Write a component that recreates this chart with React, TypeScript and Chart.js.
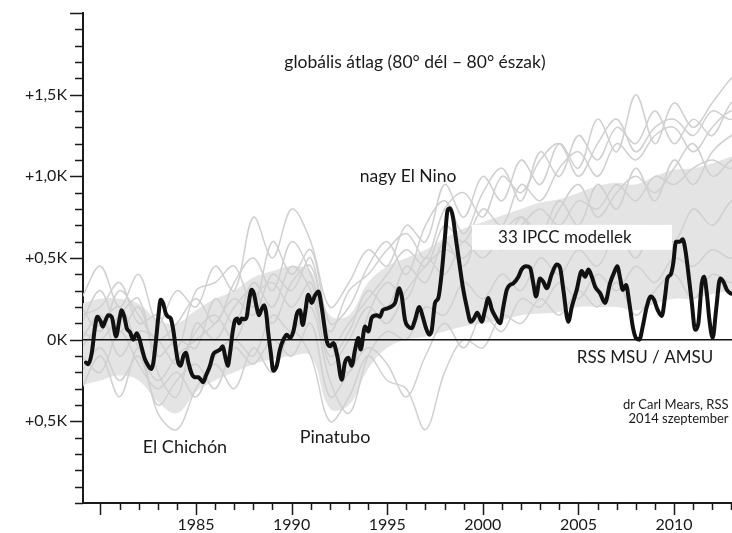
import { useEffect, useRef } from 'react';
import { Chart, registerables } from 'chart.js';

Chart.register(...registerables);

// ---- axis ranges & tick labels ----
const X_MIN = 1979.09;
const X_MAX = 2013.03;
const Y_MIN = -1.0;
const Y_MAX = 2.0;
const X_LABEL_YEARS = [1985, 1990, 1995, 2000, 2005, 2010];
const Y_LABEL_VALUES = [1.5, 1.0, 0.5, 0, -0.5];
const Y_LABEL_TEXTS = ['+1,5K', '+1,0K', '+0,5K', '0K', '+0,5K'];
const YEAR_TICKS = Array.from({ length: 34 }, (_, i) => 1980 + i);
const Y_TICKS = Array.from({ length: 31 }, (_, i) => Math.round(-10 + i) / 10);

// ---- RSS MSU / AMSU observed series (K) ----
const RSS_YEARS = [
  1979.25, 1979.37, 1979.55, 1979.72, 1979.84, 1980.02, 1980.12, 1980.24, 1980.41, 1980.59,
  1980.82, 1980.99, 1981.11, 1981.25, 1981.38, 1981.55, 1981.72, 1981.9, 1982.03, 1982.16,
  1982.33, 1982.51, 1982.65, 1982.77, 1982.91, 1983.03, 1983.15, 1983.29, 1983.42, 1983.55,
  1983.68, 1983.81, 1983.95, 1984.07, 1984.2, 1984.34, 1984.48, 1984.6, 1984.78, 1984.95,
  1985.12, 1985.25, 1985.38, 1985.52, 1985.73, 1985.9, 1986.11, 1986.26, 1986.4, 1986.52,
  1986.66, 1986.78, 1986.92, 1987.04, 1987.16, 1987.26, 1987.39, 1987.53, 1987.65, 1987.77,
  1987.91, 1988.03, 1988.17, 1988.29, 1988.44, 1988.56, 1988.66, 1988.78, 1988.91, 1989.04,
  1989.22, 1989.39, 1989.57, 1989.74, 1989.92, 1990.09, 1990.28, 1990.44, 1990.58, 1990.7,
  1990.87, 1991.05, 1991.22, 1991.4, 1991.57, 1991.84, 1992.01, 1992.18, 1992.39, 1992.62,
  1992.79, 1992.97, 1993.14, 1993.32, 1993.49, 1993.61, 1993.84, 1994.01, 1994.19, 1994.45,
  1994.62, 1994.76, 1994.97, 1995.18, 1995.41, 1995.63, 1995.76, 1995.93, 1996.1, 1996.28,
  1996.45, 1996.68, 1996.86, 1997.03, 1997.2, 1997.33, 1997.5, 1997.67, 1997.85, 1998.02,
  1998.16, 1998.28, 1998.43, 1998.6, 1998.77, 1998.95, 1999.16, 1999.37, 1999.54, 1999.71,
  1999.94, 2000.12, 2000.29, 2000.47, 2000.64, 2000.9, 2001.07, 2001.25, 2001.42, 2001.6,
  2001.86, 2002.03, 2002.26, 2002.47, 2002.64, 2002.78, 2002.99, 2003.16, 2003.34, 2003.6,
  2003.86, 2004.04, 2004.21, 2004.47, 2004.65, 2004.91, 2005.17, 2005.35, 2005.52, 2005.7,
  2005.87, 2006.13, 2006.39, 2006.65, 2006.86, 2007.03, 2007.18, 2007.32, 2007.49, 2007.66,
  2007.84, 2008.01, 2008.19, 2008.36, 2008.57, 2008.78, 2008.95, 2009.13, 2009.36, 2009.53,
  2009.65, 2009.83, 2009.96, 2010.1, 2010.31, 2010.45, 2010.59, 2010.77, 2010.93, 2011.1,
  2011.27, 2011.45, 2011.57, 2011.71, 2011.85, 2012.02, 2012.2, 2012.41, 2012.58, 2012.76,
  2012.93, 2013.2,
];
const RSS_VALUES = [
  -0.14, -0.15, -0.08, 0.08, 0.14, 0.11, 0.08, 0.11, 0.15, 0.14,
  0.02, 0.12, 0.18, 0.14, 0.07, 0.045, 0.0, 0.04, 0.01, -0.05,
  -0.12, -0.16, -0.18, -0.14, 0.0, 0.14, 0.245, 0.22, 0.16, 0.14,
  0.13, 0.06, -0.06, -0.14, -0.16, -0.1, -0.08, -0.14, -0.21, -0.23,
  -0.23, -0.245, -0.26, -0.22, -0.16, -0.09, -0.07, -0.06, -0.04, -0.1,
  -0.16, -0.08, 0.05, 0.12, 0.13, 0.1, 0.13, 0.125, 0.14, 0.235,
  0.305, 0.28, 0.2, 0.15, 0.19, 0.21, 0.17, 0.04, -0.08, -0.19,
  -0.16, -0.06, 0.0, 0.03, 0.01, 0.05, 0.16, 0.18, 0.09, 0.16,
  0.275, 0.225, 0.27, 0.295, 0.2, -0.01, -0.04, -0.02, -0.1, -0.245,
  -0.14, -0.11, -0.16, -0.06, 0.01, -0.06, 0.08, 0.05, 0.135, 0.15,
  0.14, 0.18, 0.19, 0.2, 0.225, 0.315, 0.265, 0.12, 0.08, 0.07,
  0.12, 0.2, 0.14, 0.07, 0.03, 0.06, 0.225, 0.255, 0.41, 0.63,
  0.795, 0.805, 0.755, 0.61, 0.47, 0.325, 0.2, 0.11, 0.13, 0.165,
  0.11, 0.185, 0.255, 0.185, 0.145, 0.1, 0.2, 0.305, 0.335, 0.345,
  0.385, 0.43, 0.45, 0.44, 0.345, 0.265, 0.375, 0.355, 0.315, 0.4,
  0.46, 0.44, 0.305, 0.11, 0.2, 0.305, 0.42, 0.385, 0.43, 0.385,
  0.325, 0.285, 0.225, 0.345, 0.41, 0.45, 0.375, 0.305, 0.335, 0.225,
  0.08, 0.01, 0.0, 0.08, 0.2, 0.265, 0.245, 0.185, 0.145, 0.265,
  0.375, 0.4, 0.47, 0.6, 0.6, 0.615, 0.55, 0.385, 0.225, 0.06,
  0.1, 0.345, 0.385, 0.285, 0.12, 0.01, 0.185, 0.375, 0.355, 0.305,
  0.285, 0.28,
];

// ---- IPCC model runs (K), yearly ----
const MODEL_YEARS = Array.from({ length: 36 }, (_, i) => 1979 + i);
const MODEL_1 = [0.25, 0.45, 0.2, 0.4, 0.1, 0.3, 0.2, 0.45, 0.3, 0.75, 0.5, 0.8, 0.6, 0.2, 0.35, 0.55, 0.45, 0.7, 0.6, 0.95, 0.75, 1.0, 0.85, 1.1, 0.95, 1.2, 1.05, 1.35, 1.15, 1.5, 1.2, 1.45, 1.3, 1.45, 1.6, 1.7];
const MODEL_2 = [-0.3, -0.1, -0.35, -0.05, -0.45, -0.55, -0.3, -0.15, -0.3, -0.05, -0.2, 0.05, -0.1, -0.5, -0.35, -0.1, -0.25, -0.3, -0.55, -0.2, 0.0, -0.05, 0.15, 0.1, 0.25, 0.15, 0.3, 0.2, 0.35, 0.15, 0.3, 0.4, 0.25, 0.4, 0.35, 0.45];
const MODEL_3 = [0.1, 0.3, 0.05, 0.2, -0.1, 0.0, -0.05, 0.25, 0.1, 0.35, 0.2, 0.45, 0.3, -0.1, 0.05, 0.3, 0.2, 0.45, 0.35, 0.6, 0.45, 0.7, 0.55, 0.75, 0.65, 0.85, 0.7, 0.95, 0.8, 1.05, 0.85, 1.1, 0.95, 1.15, 1.25, 1.3];
const MODEL_4 = [-0.1, -0.2, 0.05, -0.15, -0.3, -0.2, -0.35, -0.1, 0.0, -0.1, 0.15, 0.05, 0.2, -0.25, -0.45, -0.1, 0.05, 0.0, 0.2, 0.15, 0.35, 0.25, 0.4, 0.3, 0.5, 0.4, 0.55, 0.45, 0.65, 0.5, 0.7, 0.6, 0.8, 0.7, 0.85, 0.9];
const MODEL_5 = [0.05, 0.0, 0.15, 0.25, -0.2, -0.35, 0.1, 0.0, 0.2, 0.3, 0.1, 0.35, 0.45, 0.0, -0.2, 0.15, 0.35, 0.25, 0.5, 0.4, 0.6, 0.5, 0.65, 0.75, 0.6, 0.8, 0.95, 0.75, 0.9, 1.0, 0.9, 1.05, 1.2, 1.0, 1.1, 1.15];
const MODEL_6 = [0.15, 0.2, 0.35, 0.1, 0.15, -0.05, 0.3, 0.35, 0.45, 0.2, 0.6, 0.4, 0.55, 0.1, 0.2, 0.45, 0.6, 0.4, 0.7, 0.85, 0.65, 0.9, 1.05, 0.85, 1.15, 1.0, 1.25, 1.1, 1.3, 1.2, 1.4, 1.2, 1.35, 1.25, 1.45, 1.5];
const MODEL_7 = [-0.2, -0.05, -0.25, -0.1, -0.4, -0.25, -0.15, -0.3, -0.05, -0.15, 0.0, -0.1, 0.1, -0.35, -0.2, -0.05, -0.15, -0.35, -0.1, 0.1, -0.05, 0.15, 0.05, 0.25, 0.2, 0.35, 0.25, 0.4, 0.3, 0.45, 0.35, 0.5, 0.45, 0.55, 0.5, 0.6];
const MODEL_8 = [0.0, 0.15, -0.1, 0.05, 0.0, -0.15, 0.05, 0.15, 0.0, 0.25, 0.35, 0.2, 0.35, -0.15, 0.0, 0.2, 0.1, 0.3, 0.45, 0.55, 0.5, 0.65, 0.6, 0.7, 0.8, 0.7, 0.85, 0.8, 0.95, 0.85, 1.0, 0.95, 1.05, 1.1, 1.05, 1.2];
const MODEL_9 = [0.2, 0.05, 0.3, 0.15, 0.0, 0.1, 0.25, 0.1, 0.35, 0.5, 0.3, 0.6, 0.4, 0.05, 0.3, 0.4, 0.55, 0.65, 0.5, 0.8, 0.9, 0.75, 1.0, 0.9, 1.1, 1.2, 1.0, 1.2, 1.35, 1.15, 1.3, 1.35, 1.25, 1.4, 1.35, 1.5];
const MODEL_10 = [-0.05, 0.1, 0.2, -0.05, -0.25, -0.1, 0.0, 0.1, 0.25, 0.15, 0.4, 0.3, 0.5, -0.05, 0.1, 0.25, 0.4, 0.55, 0.45, 0.7, 0.6, 0.8, 0.7, 0.95, 0.85, 1.05, 1.15, 1.0, 1.2, 1.1, 1.25, 1.3, 1.15, 1.3, 1.4, 1.35];
const MODELS = [MODEL_1, MODEL_2, MODEL_3, MODEL_4, MODEL_5, MODEL_6, MODEL_7, MODEL_8, MODEL_9, MODEL_10];

// dense core of the model ensemble (K)
const BAND_UPPER = [0.22, 0.25, 0.25, 0.22, 0.12, 0.1, 0.18, 0.25, 0.3, 0.38, 0.42, 0.45, 0.42, 0.15, 0.15, 0.35, 0.45, 0.5, 0.55, 0.62, 0.68, 0.72, 0.76, 0.8, 0.84, 0.86, 0.9, 0.94, 0.96, 0.95, 1.0, 1.04, 1.05, 1.08, 1.12, 1.15];
const BAND_LOWER = [-0.28, -0.25, -0.22, -0.25, -0.38, -0.45, -0.32, -0.25, -0.2, -0.15, -0.12, -0.1, -0.1, -0.42, -0.4, -0.18, -0.05, 0.0, 0.02, 0.05, 0.08, 0.1, 0.12, 0.15, 0.16, 0.17, 0.2, 0.2, 0.2, 0.18, 0.22, 0.25, 0.25, 0.28, 0.3, 0.32];

// ---- annotations (data coordinates) ----
const NOTES = [
  { text: 'globális átlag (80° dél – 80° észak)', x: 1996.45, y: 1.7, size: 17.5, align: 'center' },
  { text: 'nagy El Nino', x: 1996.09, y: 1.0, size: 17.5, align: 'center' },
  { text: '33 IPCC modellek', x: 2004.29, y: 0.624, size: 17, align: 'center' },
  { text: 'RSS MSU / AMSU', x: 2008.48, y: -0.11, size: 17, align: 'center' },
  { text: 'dr Carl Mears, RSS', x: 2012.85, y: -0.4, size: 13, align: 'right' },
  { text: '2014 szeptember', x: 2012.85, y: -0.483, size: 13, align: 'right' },
  { text: 'El Chichón', x: 1984.42, y: -0.66, size: 18, align: 'center' },
  { text: 'Pinatubo', x: 1992.27, y: -0.6, size: 18, align: 'center' },
];
const LABEL_BOX = { x0: 1999.43, x1: 2009.89, y0: 0.55, y1: 0.703 };

const FONT = 'Lato, "Open Sans", sans-serif';
const INK = '#1a1a1a';

const toXY = (xs: number[], ys: number[]) => xs.map((x, i) => ({ x, y: ys[i] }));

const overlay = {
  id: 'overlay',
  beforeDatasetDraw(chart: any, args: any) {
    if (args.index !== 0) return;
    const { ctx, scales } = chart;
    const x0 = scales.x.getPixelForValue(LABEL_BOX.x0);
    const x1 = scales.x.getPixelForValue(LABEL_BOX.x1);
    const y0 = scales.y.getPixelForValue(LABEL_BOX.y1);
    const y1 = scales.y.getPixelForValue(LABEL_BOX.y0);
    ctx.save();
    ctx.fillStyle = '#ffffff';
    ctx.fillRect(x0, y0, x1 - x0, y1 - y0);
    ctx.fillStyle = INK;
    const n = NOTES[2];
    ctx.font = `${n.size}px ${FONT}`;
    ctx.textAlign = 'center';
    ctx.textBaseline = 'middle';
    ctx.fillText(n.text, scales.x.getPixelForValue(n.x), scales.y.getPixelForValue(n.y));
    ctx.restore();
  },
  afterDatasetsDraw(chart: any) {
    const { ctx, scales } = chart;
    ctx.save();
    ctx.fillStyle = INK;
    ctx.textBaseline = 'middle';
    NOTES.forEach((n, i) => {
      if (i === 2) return;
      ctx.font = `${n.size}px ${FONT}`;
      ctx.textAlign = n.align;
      ctx.fillText(n.text, scales.x.getPixelForValue(n.x), scales.y.getPixelForValue(n.y));
    });
    ctx.restore();
  },
  afterDraw(chart: any) {
    const { ctx, scales } = chart;
    const { x, y } = scales;
    ctx.save();
    ctx.strokeStyle = INK;
    ctx.lineWidth = 1.5;
    YEAR_TICKS.forEach((v) => {
      const px = Math.round(x.getPixelForValue(v)) + 0.5;
      if (px < x.left || px > x.right) return;
      const len = v % 5 === 0 ? 12 : 7;
      ctx.beginPath();
      ctx.moveTo(px, x.top);
      ctx.lineTo(px, x.top + len);
      ctx.stroke();
    });
    Y_TICKS.forEach((v) => {
      const py = Math.round(y.getPixelForValue(v)) + 0.5;
      const major = v === Y_MAX || Y_LABEL_VALUES.some((m) => Math.abs(m - v) < 1e-6);
      const len = major ? 13 : 8;
      ctx.beginPath();
      ctx.moveTo(y.right - len, py);
      ctx.lineTo(y.right, py);
      ctx.stroke();
    });
    ctx.restore();
  },
};

export default function App() {
  const canvasRef = useRef<HTMLCanvasElement | null>(null);

  useEffect(() => {
    if (!canvasRef.current) return;
    Chart.defaults.font.family = FONT;

    const modelSets = MODELS.map((m, i) => ({
      label: `model ${i + 1}`,
      data: toXY(MODEL_YEARS, m),
      borderColor: '#d0d0d0',
      borderWidth: 1.5,
      pointRadius: 0,
      tension: 0.35,
      fill: false,
    }));

    const chart = new Chart(canvasRef.current, {
      type: 'line',
      data: {
        datasets: [
          {
            label: 'RSS MSU / AMSU',
            data: toXY(RSS_YEARS, RSS_VALUES),
            borderColor: '#111111',
            borderWidth: 4,
            pointRadius: 0,
            cubicInterpolationMode: 'monotone',
            borderJoinStyle: 'round',
            borderCapStyle: 'round',
            fill: false,
          },
          {
            label: 'zero',
            data: [{ x: X_MIN, y: 0 }, { x: X_MAX, y: 0 }],
            borderColor: '#111111',
            borderWidth: 1.5,
            pointRadius: 0,
            fill: false,
          },
          ...modelSets,
          {
            label: 'band upper',
            data: toXY(MODEL_YEARS, BAND_UPPER),
            borderColor: 'rgba(0,0,0,0)',
            backgroundColor: '#e4e4e4',
            borderWidth: 0,
            pointRadius: 0,
            tension: 0.4,
            fill: '+1',
          },
          {
            label: 'band lower',
            data: toXY(MODEL_YEARS, BAND_LOWER),
            borderColor: 'rgba(0,0,0,0)',
            borderWidth: 0,
            pointRadius: 0,
            tension: 0.4,
            fill: false,
          },
        ],
      },
      options: {
        animation: false,
        responsive: true,
        maintainAspectRatio: false,
        layout: { padding: { top: 13, right: 0, left: 0, bottom: 0 } },
        plugins: { legend: { display: false }, tooltip: { enabled: false } },
        scales: {
          x: {
            type: 'linear',
            min: X_MIN,
            max: X_MAX,
            afterBuildTicks: (s: any) => {
              s.ticks = YEAR_TICKS.map((v) => ({ value: v }));
            },
            afterFit: (s: any) => {
              s.height = 30;
              s.paddingLeft = 0;
              s.paddingRight = 0;
            },
            grid: { display: false, drawTicks: false },
            border: { display: true, color: INK, width: 2 },
            ticks: {
              autoSkip: false,
              maxRotation: 0,
              padding: 12,
              color: INK,
              font: { size: 16 },
              callback: (v: any) => (X_LABEL_YEARS.includes(Number(v)) ? String(v) : ''),
            },
          },
          y: {
            type: 'linear',
            min: Y_MIN,
            max: Y_MAX,
            afterBuildTicks: (s: any) => {
              s.ticks = Y_TICKS.map((v) => ({ value: v }));
            },
            afterFit: (s: any) => {
              s.width = 83;
              s.paddingTop = 0;
              s.paddingBottom = 0;
            },
            grid: { display: false, drawTicks: false },
            border: { display: true, color: INK, width: 2 },
            ticks: {
              autoSkip: false,
              padding: 16,
              color: INK,
              font: { size: 16 },
              callback: (v: any) => {
                const i = Y_LABEL_VALUES.findIndex((m) => Math.abs(m - Number(v)) < 1e-6);
                return i >= 0 ? Y_LABEL_TEXTS[i] : '';
              },
            },
          },
        },
      },
      plugins: [overlay],
    } as any);

    return () => chart.destroy();
  }, []);

  return (
    <div style={{ position: 'fixed', left: 0, top: 0, width: 732, height: 533, background: '#fff' }}>
      <canvas ref={canvasRef} />
    </div>
  );
}
